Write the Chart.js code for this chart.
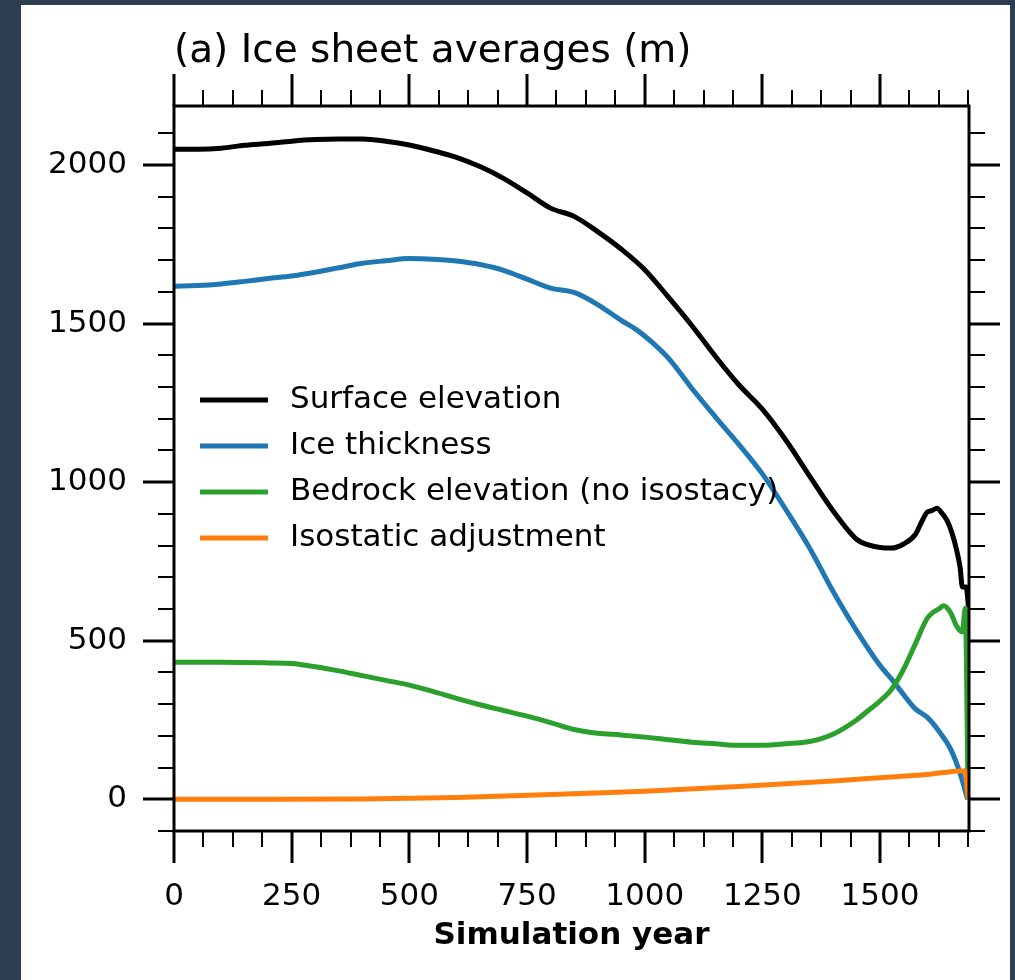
<!DOCTYPE html>
<html>
<head>
<meta charset="utf-8">
<script src="https://cdn.jsdelivr.net/npm/chart.js@4.4.1/dist/chart.umd.min.js"></script>
<style>
  body { margin: 0; background: #2c3e50; }
  #panel { position: absolute; left: 21px; top: 5px; width: 989px; height: 975px; background: #fff; }
  #chartId { position: absolute; left: 0; top: 0; }
</style>
</head>
<body>
<div id="panel"></div>
<canvas id="chartId" width="1015" height="980"></canvas>
<script>
// values
var surfaceYears = [0, 50, 100, 150, 200, 250, 300, 350, 400, 450, 500, 550, 600, 650, 700, 750, 800, 850, 900, 950, 1000, 1050, 1100, 1150, 1200, 1250, 1300, 1350, 1400, 1450, 1475, 1500, 1525, 1550, 1575, 1590, 1600, 1610, 1621, 1630, 1642, 1653, 1662, 1670, 1675, 1683, 1688];
var surfaceValues = [2050, 2050, 2053, 2062, 2068, 2075, 2080, 2082, 2082, 2075, 2063, 2045, 2024, 1995, 1958, 1912, 1864, 1838, 1790, 1735, 1670, 1584, 1494, 1397, 1307, 1230, 1132, 1020, 910, 820, 802, 794, 792, 805, 835, 880, 905, 910, 918, 905, 880, 839, 790, 732, 669, 669, 605];

var thicknessYears = [0, 50, 100, 150, 200, 250, 300, 350, 400, 450, 500, 550, 600, 650, 700, 750, 800, 850, 900, 950, 983, 1020, 1054, 1100, 1150, 1200, 1250, 1300, 1350, 1400, 1450, 1500, 1525, 1550, 1575, 1600, 1625, 1650, 1670, 1686];
var thicknessValues = [1618, 1620, 1625, 1633, 1642, 1650, 1662, 1676, 1690, 1698, 1705, 1703, 1697, 1686, 1668, 1640, 1612, 1598, 1560, 1510, 1480, 1435, 1385, 1296, 1206, 1119, 1026, 913, 793, 656, 532, 422, 378, 330, 285, 259, 215, 158, 82, 0];

var bedrockYears = [0, 100, 200, 250, 300, 350, 400, 450, 500, 550, 600, 650, 700, 750, 800, 850, 900, 950, 1000, 1050, 1100, 1150, 1200, 1250, 1300, 1350, 1400, 1450, 1475, 1500, 1525, 1550, 1575, 1600, 1613, 1625, 1635, 1650, 1663, 1675, 1681, 1687];
var bedrockValues = [432, 432, 430, 428, 418, 405, 390, 375, 360, 340, 318, 298, 280, 262, 242, 220, 208, 203, 196, 188, 180, 175, 170, 170, 175, 182, 205, 250, 280, 310, 348, 410, 490, 570, 590, 600, 610, 588, 545, 528, 602, 10];

var isostasyYears = [0, 200, 400, 600, 800, 1000, 1200, 1400, 1500, 1600, 1680, 1687];
var isostasyValues = [0, 0, 1, 6, 15, 25, 40, 58, 68, 78, 90, 2];

var seriesNames = ['Surface elevation', 'Ice thickness', 'Bedrock elevation (no isostacy)', 'Isostatic adjustment'];
var seriesColors = ['#000000', '#1f77b4', '#2ca02c', '#ff7f0e'];

var xMajorTicks = [0, 250, 500, 750, 1000, 1250, 1500];
var yMajorTicks = [0, 500, 1000, 1500, 2000];

function toPoints(xs, ys) {
    return xs.map(function (x, i) { return { x: x, y: ys[i] }; });
}

function minorTicks(start, stop, step, majors) {
    var out = [];
    for (var v = start; v <= stop + 1e-6; v += step) {
        if (majors.indexOf(v) < 0) out.push(v);
    }
    return out;
}

var font = '"DejaVu Sans", sans-serif';

var axisMarks = {
    id: 'axisMarks',
    afterDraw: function (chart) {
        var ctx = chart.ctx, a = chart.chartArea;
        var xs = chart.scales.x, ys = chart.scales.y;
        ctx.save();
        ctx.strokeStyle = '#000';
        ctx.lineCap = 'butt';

        function ticksX(vals, len, w) {
            ctx.lineWidth = w;
            vals.forEach(function (v) {
                var p = Math.round(xs.getPixelForValue(v));
                ctx.beginPath();
                ctx.moveTo(p, a.bottom); ctx.lineTo(p, a.bottom + len);
                ctx.moveTo(p, a.top); ctx.lineTo(p, a.top - len);
                ctx.stroke();
            });
        }
        function ticksY(vals, len, w) {
            ctx.lineWidth = w;
            vals.forEach(function (v) {
                var p = Math.round(ys.getPixelForValue(v));
                ctx.beginPath();
                ctx.moveTo(a.left, p); ctx.lineTo(a.left - len, p);
                ctx.moveTo(a.right, p); ctx.lineTo(a.right + len, p);
                ctx.stroke();
            });
        }
        ticksX(minorTicks(0, xs.max, 62.5, xMajorTicks), 16, 2);
        ticksX(xMajorTicks, 32, 3);
        ticksY(minorTicks(-100, ys.max, 100, yMajorTicks), 16, 2);
        ticksY(yMajorTicks, 31, 3);

        ctx.lineWidth = 3;
        ctx.strokeRect(a.left, a.top, a.right - a.left, a.bottom - a.top);

        // title
        ctx.fillStyle = '#000';
        ctx.font = '39px ' + font;
        ctx.textAlign = 'left';
        ctx.textBaseline = 'middle';
        ctx.fillText('(a) Ice sheet averages (m)', a.left, 52);

        // legend
        ctx.font = '31px ' + font;
        ctx.lineWidth = 5;
        seriesNames.forEach(function (name, i) {
            var y = 400 + i * 46;
            ctx.strokeStyle = seriesColors[i];
            ctx.beginPath();
            ctx.moveTo(200, y); ctx.lineTo(268, y);
            ctx.stroke();
            ctx.fillText(name, 290, y);
        });
        ctx.restore();
    }
};

var chrt = document.getElementById('chartId').getContext('2d');
var chartId = new Chart(chrt, {
    type: 'line',
    data: {
        datasets: [
            { label: seriesNames[0], data: toPoints(surfaceYears, surfaceValues), borderColor: seriesColors[0], order: 3 },
            { label: seriesNames[1], data: toPoints(thicknessYears, thicknessValues), borderColor: seriesColors[1], order: 2 },
            { label: seriesNames[2], data: toPoints(bedrockYears, bedrockValues), borderColor: seriesColors[2], order: 1 },
            { label: seriesNames[3], data: toPoints(isostasyYears, isostasyValues), borderColor: seriesColors[3], order: 0 }
        ]
    },
    options: {
        responsive: false,
        animation: false,
        layout: { padding: { top: 106, right: 46, left: 0, bottom: 0 } },
        elements: {
            line: { borderWidth: 5, cubicInterpolationMode: 'monotone', fill: false },
            point: { radius: 0 }
        },
        plugins: {
            legend: { display: false },
            tooltip: { enabled: false }
        },
        scales: {
            x: {
                type: 'linear',
                min: 0,
                max: 1689,
                grid: { display: false },
                border: { display: false },
                afterBuildTicks: function (s) { s.ticks = xMajorTicks.map(function (v) { return { value: v }; }); },
                afterFit: function (s) { s.height = 149; },
                ticks: {
                    padding: 39,
                    color: '#000',
                    font: { family: font, size: 31 },
                    maxRotation: 0,
                    callback: function (v) { return String(v); }
                },
                title: {
                    display: true,
                    text: 'Simulation year',
                    color: '#000',
                    font: { family: font, size: 31, weight: 'bold' },
                    padding: { top: 0, bottom: 25 }
                }
            },
            y: {
                min: -100,
                max: 2186,
                grid: { display: false },
                border: { display: false },
                afterBuildTicks: function (s) { s.ticks = yMajorTicks.map(function (v) { return { value: v }; }); },
                afterFit: function (s) { s.width = 174; },
                ticks: {
                    padding: 39,
                    color: '#000',
                    font: { family: font, size: 31 },
                    callback: function (v) { return String(v); }
                }
            }
        }
    },
    plugins: [axisMarks]
});
</script>
</body>
</html>
